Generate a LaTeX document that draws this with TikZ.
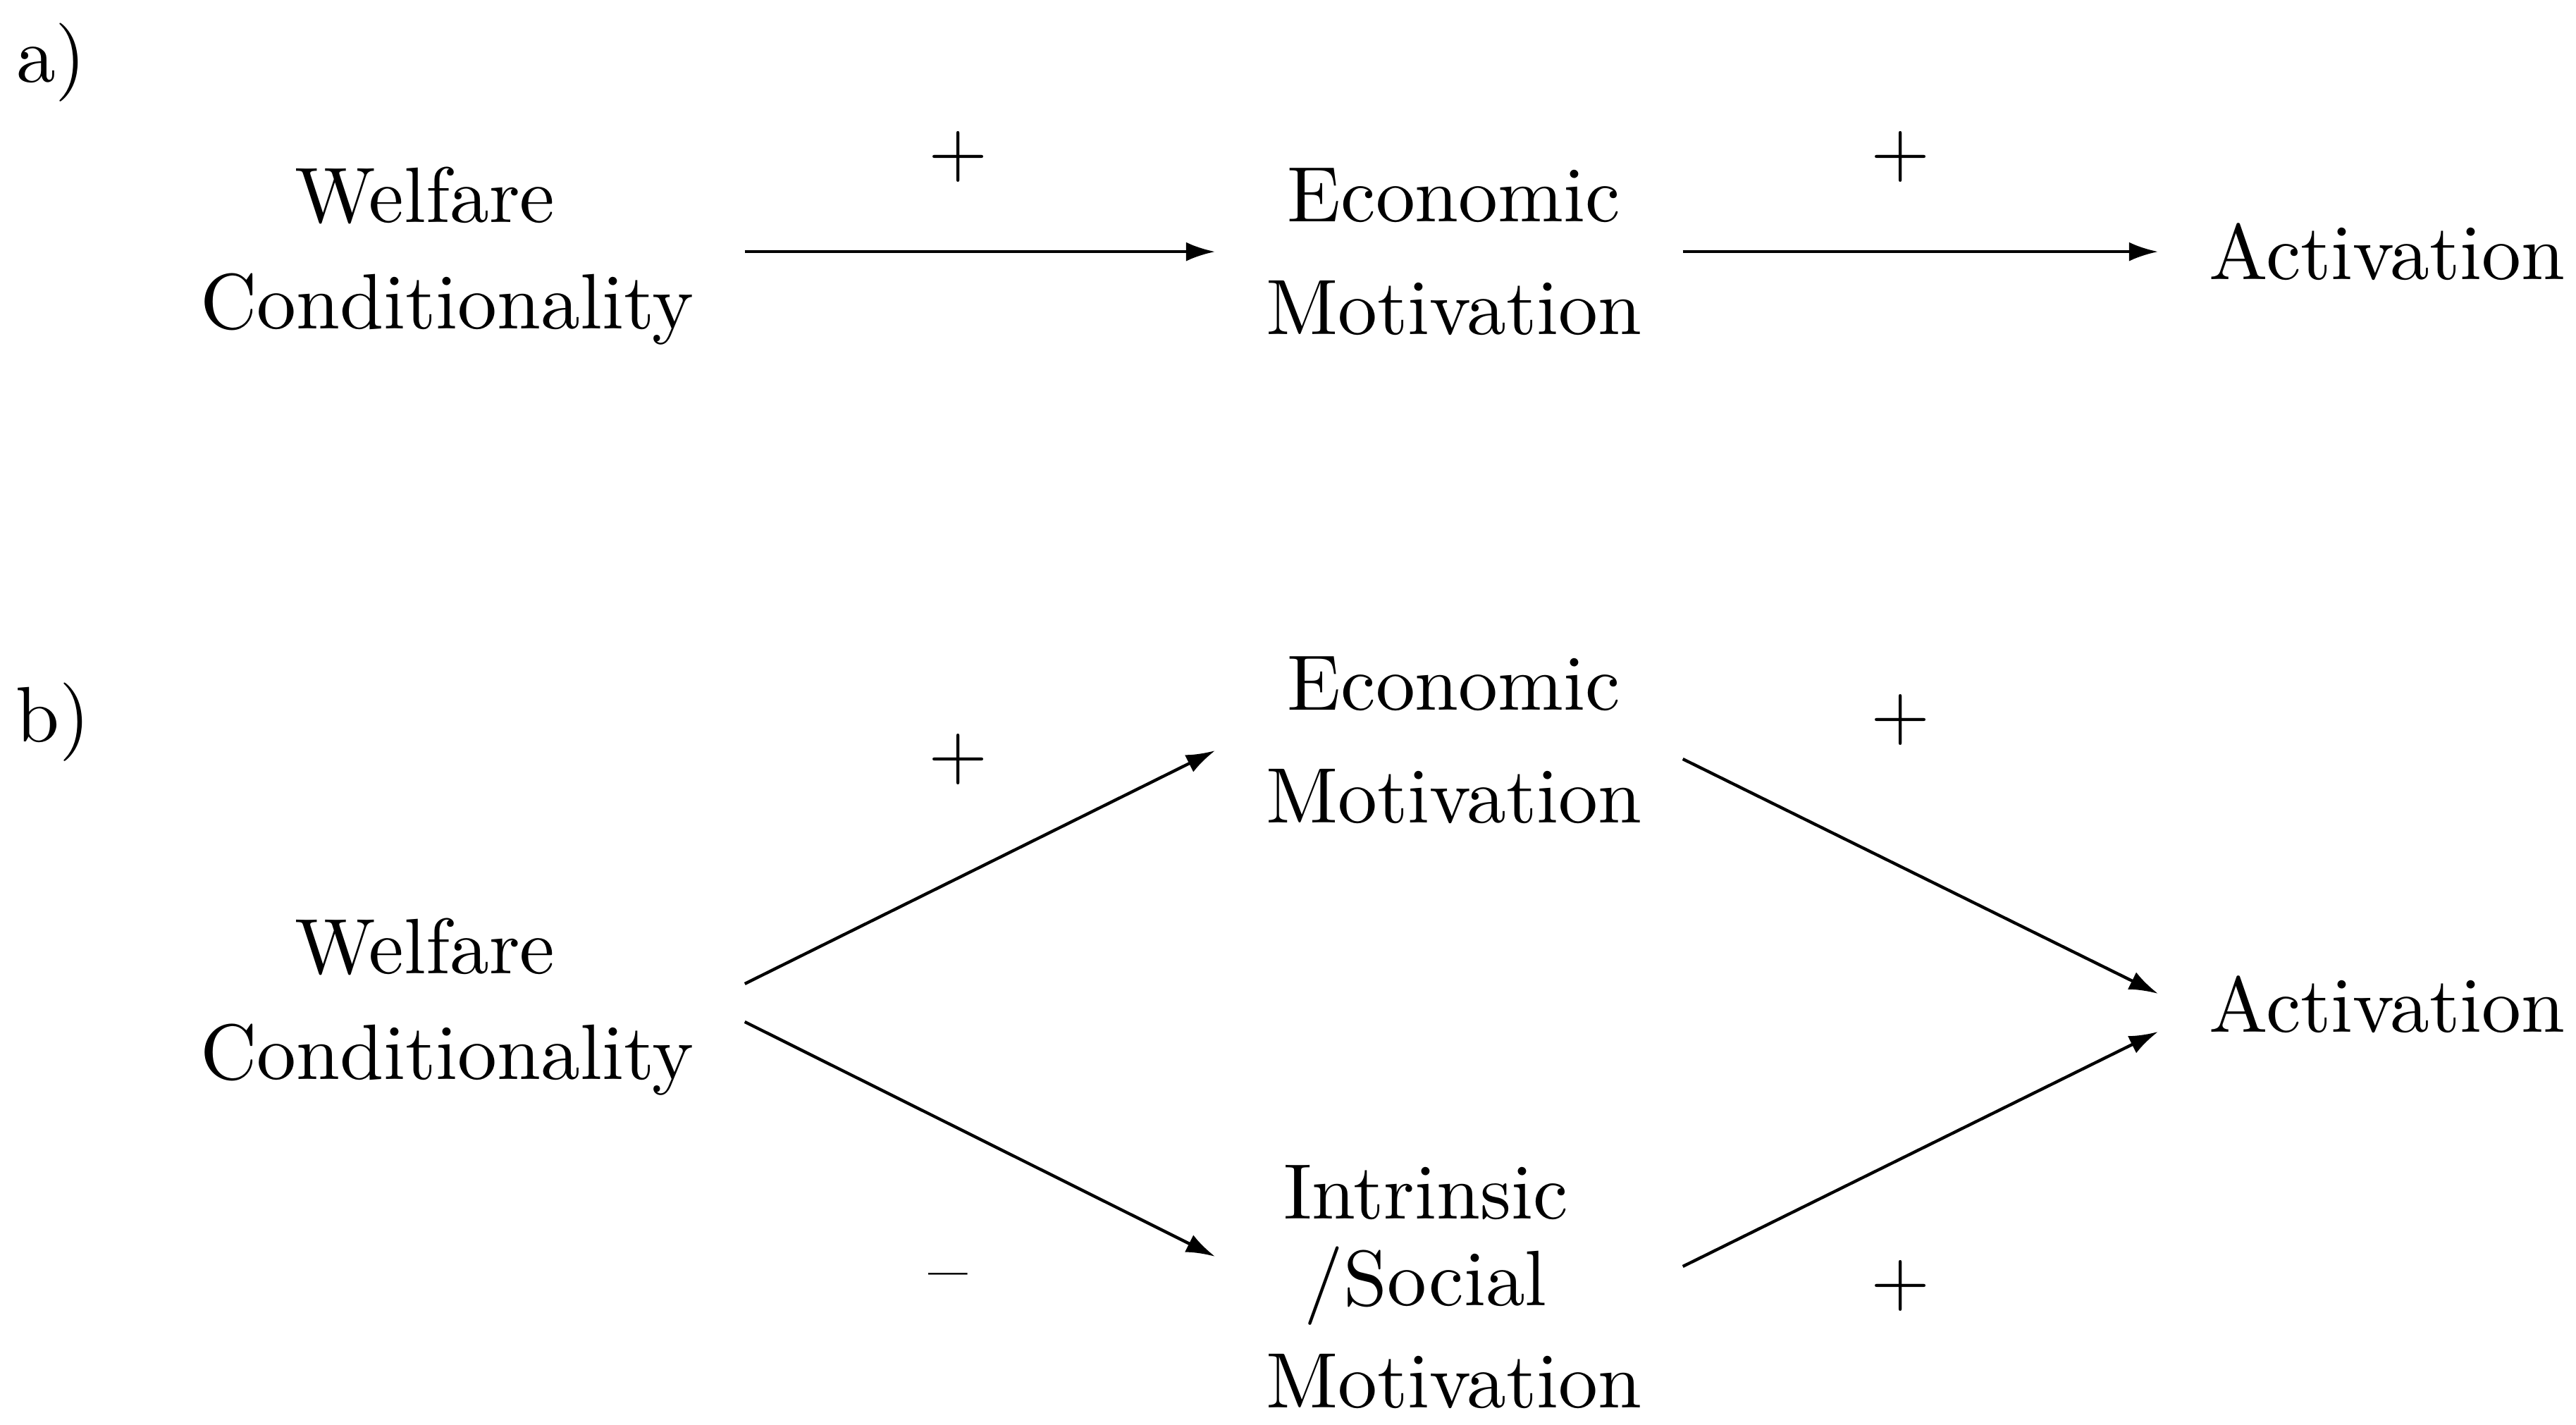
\documentclass[tikz,border=0pt]{standalone}
\usepackage{tikz}
\usetikzlibrary{arrows.meta}
\tikzstyle{factor} = [align=center, inner xsep=6.5pt, inner ysep=0pt, font=\fontsize{10.3pt}{13.9pt}\selectfont]
\tikzstyle{sign} = [inner sep=0pt, font=\fontsize{10.3pt}{13.9pt}\selectfont]
\tikzstyle{panel} = [anchor=base west, inner sep=0pt, font=\fontsize{10.3pt}{13.9pt}\selectfont]
\tikzstyle{arrow} = [->,>={Latex[length=3.8pt,width=2.5pt]}]
\begin{document}
\begin{tikzpicture}[node distance=2.25cm]
    \useasboundingbox (0,0) rectangle (11.871,-6.567);
    % a) direct path
    \node (laba) [panel] at (0.068,-0.380) {a)};
    \node (wca) [factor] at (2.06,-1.18) {\mbox{Welfare\hspace{5.8pt}}\\Conditionality};
    \node (ema) [factor, right of=wca, xshift=2.39cm, yshift=0.02cm] {Economic\\[0.86pt]Motivation};
    \node (acta) [factor, right of=ema, xshift=2.05cm] {Activation};
    \node (pa1) [sign] at (4.417,-0.724) {$+$};
    \node (pa2) [sign] at (8.759,-0.724) {$+$};

    % b) two paths
    \node (labb) [panel] at (0.065,-3.420) {b)};
    \node (emb) [factor, below of=ema] {Economic\\[0.86pt]Motivation};
    \node (wcb) [factor, below of=wca, yshift=-1.21cm] {\mbox{Welfare\hspace{5.8pt}}\\Conditionality};
    \node (actb) [factor, below of=acta, yshift=-1.22cm] {Activation};
    \node (imb) [factor, below of=emb, yshift=-0.27cm] {\mbox{Intrinsic\hspace{7.4pt}}\\[-2.5pt]\mbox{/Social\hspace{7.4pt}}\\[-0.55pt]Motivation};
    \node (pb1) [sign] at (4.417,-3.498) {$+$};
    \node (mb) [sign] at (4.368,-5.918) {--};
    \node (pb2) [sign] at (8.759,-3.316) {$+$};
    \node (pb3) [sign] at (8.759,-5.927) {$+$};

    \draw [arrow] (wca.east |- ema.west) -- (ema.west);
    \draw [arrow] ([xshift=-1.3pt]ema.east) -- (acta.west);

    \draw [arrow] ([yshift=3.02pt]wcb.east) -- ([yshift=-1.40pt]emb.west);
    \draw [arrow] ([yshift=-1.97pt]wcb.east) -- ([yshift=3.96pt]imb.west);
    \draw [arrow] ([xshift=-1.3pt,yshift=-2.50pt]emb.east) -- ([yshift=1.44pt]actb.west);
    \draw [arrow] ([xshift=-1.3pt,yshift=2.66pt]imb.east) -- ([yshift=-3.55pt]actb.west);
\end{tikzpicture}
\end{document}
